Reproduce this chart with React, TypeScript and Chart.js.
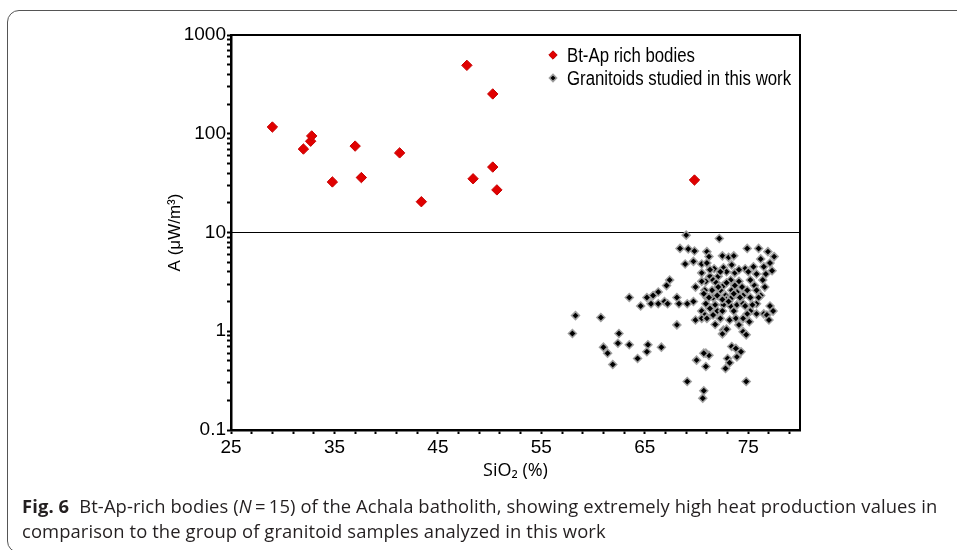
import React, { useEffect, useRef } from 'react';
import { Chart, registerables } from 'chart.js';

Chart.register(...registerables);

// ---- data ----
const btApSiO2 = [29.0, 32.0, 32.7, 32.8, 34.8, 37.0, 37.6, 41.3, 43.4, 47.8, 50.3, 50.3, 48.4, 50.7, 69.8];
const btApA = [117, 70, 84, 95, 32.5, 75, 36, 64, 20.5, 493, 253, 46, 35, 27, 34];

const granSiO2 = [
  69.0, 72.2, 68.4, 69.2, 69.8, 71.0, 71.2, 72.5, 73.1, 73.6, 74.9, 76.0, 76.9, 77.5, 76.2,
  68.9, 69.7, 70.5, 71.0, 71.7, 72.6, 73.4, 74.7, 75.5, 75.0, 75.8, 76.7, 77.3, 70.5, 71.3,
  72.1, 72.9, 73.7, 67.4, 67.1, 69.9, 70.9, 71.6, 71.9, 72.6, 73.3, 74.1, 74.4, 74.9, 75.6,
  76.4, 76.6, 76.2, 73.9, 73.4, 72.8, 72.3, 71.5, 70.8, 63.5, 65.2, 65.8, 66.3, 65.6, 66.3,
  66.9, 67.2, 68.1, 68.3, 69.1, 69.7, 71.0, 71.6, 72.9, 73.4, 74.5, 75.2, 64.6, 70.9, 71.3,
  72.0, 72.6, 73.3, 73.9, 74.5, 75.2, 75.8, 76.5, 77.1, 77.4, 70.5, 70.8, 71.6, 72.5, 73.2,
  73.8, 74.5, 75.1, 76.8, 77.0, 69.9, 70.5, 71.8, 72.6, 72.9, 74.1, 74.5, 74.8, 72.5, 58.3,
  60.75, 58.0, 62.5, 68.1, 61.0, 61.4, 62.4, 63.5, 65.3, 65.2, 66.6, 61.9, 64.3, 70.0, 70.9,
  71.2, 70.7, 70.9, 73.0, 73.2, 72.8, 73.4, 73.8, 74.3, 73.9, 69.1, 70.7, 70.6, 74.8,
  70.7, 71.2, 72.0, 72.5, 73.1, 73.6, 74.2, 74.7, 75.4, 76.0, 71.8, 72.3, 73.6, 71.0, 74.9,
  75.8, 72.1, 73.7, 72.9, 75.2, 71.3, 72.3, 74.1, 76.5, 77.1, 70.5, 75.8,
];
const granA = [
  9.4, 8.7, 6.9, 6.8, 6.5, 6.4, 5.7, 5.8, 5.6, 5.8, 6.9, 6.9, 6.4, 5.7, 5.4,
  4.8, 5.1, 4.8, 4.9, 4.3, 4.4, 4.7, 4.3, 4.5, 4.0, 3.8, 3.8, 4.1, 3.9, 3.6,
  3.6, 4.0, 3.9, 3.3, 2.9, 2.8, 3.2, 3.3, 3.1, 2.9, 3.3, 3.2, 2.8, 2.6, 2.9,
  3.3, 2.8, 2.3, 2.5, 2.6, 2.3, 2.6, 2.6, 2.6, 2.2, 2.2, 2.3, 2.5, 1.9, 1.9,
  2.0, 1.9, 2.2, 1.9, 1.9, 2.0, 2.2, 2.2, 2.1, 2.2, 2.3, 2.2, 1.8, 1.9, 1.7,
  1.6, 1.85, 1.8, 1.85, 1.9, 1.6, 1.9, 1.5, 1.8, 1.6, 1.6, 1.46, 1.46, 1.6, 1.3,
  1.35, 1.35, 1.25, 1.46, 1.3, 1.3, 1.35, 1.17, 1.03, 1.05, 1.16, 0.99, 0.92, 0.94, 1.44,
  1.38, 0.95, 0.95, 1.16, 0.69, 0.60, 0.755, 0.73, 0.73, 0.62, 0.69, 0.46, 0.53, 0.51, 0.60,
  0.57, 0.60, 0.44, 0.53, 0.48, 0.42, 0.70, 0.67, 0.62, 0.55, 0.31, 0.25, 0.21, 0.31,
  2.4, 2.2, 2.3, 2.1, 2.0, 2.4, 2.2, 1.8, 1.85, 2.2, 1.85, 1.35, 1.6, 1.35, 1.5,
  1.5, 2.8, 2.9, 3.1, 3.3, 4.2, 4.0, 4.2, 4.5, 4.9, 3.2, 2.6,
];

const xMin = 25;
const xMax = 80;
const xMinorStep = 2;
const xTickLabels = [25, 35, 45, 55, 65, 75];
const yMin = 0.1;
const yMax = 1000;
const yTickLabels = [0.1, 1, 10, 100, 1000];
const thresholdA = 10;

const seriesNames = ['Bt-Ap rich bodies', 'Granitoids studied in this work'];

const SANS = '"Liberation Sans", Arial, sans-serif';

function diamond(ctx: CanvasRenderingContext2D, x: number, y: number, r: number, fill: string, stroke: string, lw: number) {
  ctx.beginPath();
  ctx.moveTo(x, y - r);
  ctx.lineTo(x + r, y);
  ctx.lineTo(x, y + r);
  ctx.lineTo(x - r, y);
  ctx.closePath();
  ctx.fillStyle = fill;
  ctx.fill();
  if (lw > 0) {
    ctx.lineWidth = lw;
    ctx.strokeStyle = stroke;
    ctx.stroke();
  }
}

const framePlugin = {
  id: 'frameAndLegend',
  afterDatasetsDraw(chart: any) {
    const { ctx, chartArea: a } = chart;
    ctx.save();
    ctx.strokeStyle = '#000';
    ctx.lineWidth = 2;
    ctx.strokeRect(a.left, a.top, a.right - a.left, a.bottom - a.top);
    // legend
    const lx = a.left + 322;
    const ly1 = a.top + 20;
    const ly2 = a.top + 43;
    diamond(ctx, lx, ly1, 4.2, '#e00000', '#c00000', 1);
    diamond(ctx, lx, ly2, 3.6, '#000', '#a0a0a0', 1.5);
    ctx.fillStyle = '#000';
    ctx.font = `20px ${SANS}`;
    ctx.textBaseline = 'middle';
    ctx.textAlign = 'left';
    const tx = a.left + 336;
    ctx.translate(tx, 0);
    ctx.scale(0.84, 1);
    ctx.fillText(seriesNames[0], 0, ly1 + 1);
    ctx.fillText(seriesNames[1], 0, ly2 + 1);
    ctx.restore();
  },
};

export default function App() {
  const canvasRef = useRef<HTMLCanvasElement | null>(null);

  useEffect(() => {
    const canvas = canvasRef.current;
    if (!canvas) return;
    const chart = new Chart(canvas, {
      type: 'scatter',
      data: {
        datasets: [
          {
            label: 'threshold',
            type: 'line',
            data: [{ x: xMin, y: thresholdA }, { x: xMax, y: thresholdA }],
            showLine: true,
            borderColor: '#000',
            borderWidth: 1.2,
            pointRadius: 0,
            order: 3,
          } as any,
          {
            label: seriesNames[1],
            data: granSiO2.map((x, i) => ({ x, y: granA[i] })),
            pointStyle: 'rectRot',
            pointRadius: 4,
            backgroundColor: '#000',
            borderColor: '#a0a0a0',
            borderWidth: 1.5,
            order: 2,
          },
          {
            label: seriesNames[0],
            data: btApSiO2.map((x, i) => ({ x, y: btApA[i] })),
            pointStyle: 'rectRot',
            pointRadius: 5.2,
            backgroundColor: '#e00000',
            borderColor: '#c80000',
            borderWidth: 1,
            order: 1,
          },
        ],
      },
      options: {
        responsive: false,
        animation: false,
        devicePixelRatio: 1,
        layout: { padding: { left: 158, top: 35, right: 157, bottom: 0 } },
        plugins: { legend: { display: false }, tooltip: { enabled: false } },
        scales: {
          x: {
            type: 'linear',
            min: xMin,
            max: xMax,
            afterBuildTicks: (scale: any) => {
              const t = [];
              for (let v = xMin; v < xMax; v += xMinorStep) t.push({ value: v });
              scale.ticks = t;
            },
            afterFit: (scale: any) => {
              scale.height = 70;
            },
            border: { display: true, color: '#000', width: 2.5 },
            grid: { display: true, drawOnChartArea: false, drawTicks: true, tickLength: 4, tickWidth: 2, tickColor: '#000' },
            ticks: {
              autoSkip: false,
              maxRotation: 0,
              padding: 2,
              color: '#000',
              font: { family: SANS, size: 19 },
              callback: (v: any) => (xTickLabels.includes(Number(v)) ? String(v) : ''),
            },
            title: {
              display: true,
              text: 'SiO₂ (%)',
              color: '#000',
              font: { family: '"Open Sans", sans-serif', size: 18 },
              padding: { top: 0, bottom: 18 },
            },
          },
          y: {
            type: 'logarithmic',
            min: yMin,
            max: yMax,
            afterBuildTicks: (scale: any) => {
              const t = [];
              for (let e = -1; e < 3; e++) {
                for (let m = 1; m < 10; m++) t.push({ value: Number((m * Math.pow(10, e)).toPrecision(3)) });
              }
              t.push({ value: yMax });
              scale.ticks = t;
            },
            afterFit: (scale: any) => {
              scale.width = 73;
            },
            border: { display: true, color: '#000', width: 2.5 },
            grid: { display: true, drawOnChartArea: false, drawTicks: true, tickLength: 4, tickWidth: 2, tickColor: '#000' },
            ticks: {
              autoSkip: false,
              padding: 1,
              color: '#000',
              font: { family: SANS, size: 19 },
              callback: (v: any) => (yTickLabels.includes(Number(v)) ? String(v) : ''),
            },
            title: {
              display: true,
              text: 'A (μW/m³)',
              color: '#000',
              font: { family: SANS, size: 17 },
              padding: { top: 7, bottom: 0 },
            },
          },
        },
      },
      plugins: [framePlugin],
    } as any);
    return () => chart.destroy();
  }, []);

  return (
    <div style={{ position: 'fixed', left: 0, top: 0, width: 957, height: 550, overflow: 'hidden', background: '#fff' }}>
      <div
        style={{
          position: 'absolute',
          left: 7,
          top: 10,
          width: 1000,
          height: 541,
          border: '1px solid #555',
          borderTopLeftRadius: 12,
          borderBottomLeftRadius: 12,
        }}
      />
      <canvas ref={canvasRef} width={957} height={500} style={{ position: 'absolute', left: 0, top: 0 }} />
      <div
        style={{
          position: 'absolute',
          left: 22,
          top: 493,
          fontFamily: '"Open Sans", sans-serif',
          fontSize: 18.4,
          lineHeight: '25px',
          color: '#231f20',
          whiteSpace: 'nowrap',
          letterSpacing: '0.1px',
        }}
      >
        <b style={{ marginRight: 10 }}>Fig. 6</b>Bt-Ap-rich bodies (<i>N</i>&#8201;=&#8201;15) of the Achala batholith, showing extremely high heat production values in
        <br />
        comparison to the group of granitoid samples analyzed in this work
      </div>
    </div>
  );
}
